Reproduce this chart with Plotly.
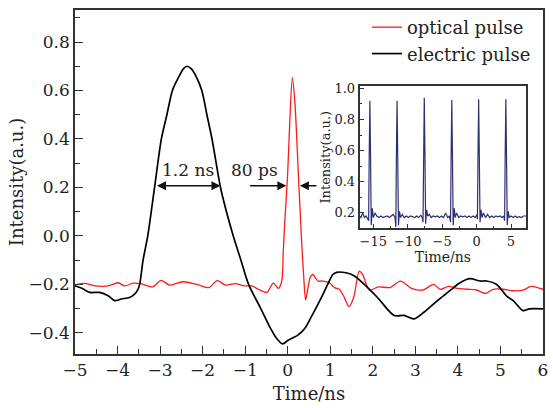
import plotly.graph_objects as go

# ---------------- data ----------------
elec_t = [-5, -4.84, -4.65, -4.42, -4.22, -4.07, -3.91, -3.72, -3.6, -3.52, -3.48, -3.40,
          -3.29, -3.13, -2.97, -2.84, -2.71, -2.55, -2.45, -2.37, -2.27, -2.16, -2.02,
          -1.90, -1.78, -1.58, -1.44, -1.28, -1.1, -0.92, -0.65, -0.42, -0.26, -0.12,
          0.01, 0.24, 0.40, 0.55, 0.79, 0.94, 1.06, 1.15, 1.37, 1.57, 1.80, 2.11, 2.50,
          2.73, 2.97, 3.2, 3.43, 3.66, 3.9, 4.05, 4.28, 4.52, 4.67, 4.91, 5.14, 5.3,
          5.53, 5.68, 6.0]
elec_v = [-0.206, -0.216, -0.233, -0.233, -0.247, -0.267, -0.26, -0.254, -0.24, -0.22, -0.2, -0.1,
          0.0, 0.2, 0.4, 0.5, 0.6, 0.66, 0.69, 0.70, 0.69, 0.66, 0.6,
          0.5, 0.4, 0.2, 0.1, 0.0, -0.1, -0.2, -0.294, -0.376, -0.423, -0.445,
          -0.43, -0.409, -0.382, -0.335, -0.254, -0.2, -0.159, -0.15, -0.152, -0.165, -0.2, -0.254, -0.328,
          -0.328, -0.342, -0.315, -0.28, -0.247, -0.213, -0.193, -0.176, -0.186, -0.186, -0.2, -0.247, -0.267,
          -0.308, -0.301, -0.301]

opt_t = [-5, -4.77, -4.53, -4.22, -3.99, -3.83, -3.64, -3.45, -3.17, -2.98, -2.77, -2.47,
         -2.13, -1.85, -1.66, -1.46, -1.23, -1.02, -0.84, -0.69, -0.49, -0.34, -0.22,
         -0.14, -0.105, -0.065, -0.004, 0.05, 0.11, 0.17, 0.245, 0.32, 0.38, 0.42, 0.47,
         0.53, 0.59, 0.71, 0.83, 0.98, 1.1, 1.21, 1.32, 1.44, 1.55, 1.68, 1.76, 1.92,
         2.13, 2.40, 2.65, 2.91, 3.18, 3.43, 3.58, 3.78, 3.95, 4.21, 4.44, 4.65, 4.83,
         5.06, 5.28, 5.53, 5.72, 6.0]
opt_v = [-0.202, -0.196, -0.206, -0.206, -0.193, -0.206, -0.195, -0.197, -0.21, -0.183, -0.203, -0.189,
         -0.2, -0.213, -0.184, -0.203, -0.197, -0.206, -0.206, -0.22, -0.233, -0.195, -0.216,
         -0.186, -0.064, 0.072, 0.248, 0.478, 0.654, 0.546, 0.275, 0.0, -0.18, -0.264, -0.22,
         -0.17, -0.159, -0.186, -0.186, -0.193, -0.213, -0.22, -0.25, -0.292, -0.254, -0.145, -0.159, -0.223,
         -0.21, -0.213, -0.186, -0.216, -0.223, -0.2, -0.22, -0.208, -0.215, -0.22, -0.223, -0.237, -0.22,
         -0.22, -0.226, -0.224, -0.208, -0.22]

inset_t = [-17.0, -16.8, -16.55, -16.3, -16.05, -15.8, -15.68, -15.6, -15.5, -15.4, -15.3, -15.15,
           -15.0, -14.75, -14.5, -14.2, -13.9, -13.6, -13.3, -13.0, -12.7, -12.4, -12.1, -11.85,
           -11.73, -11.65, -11.55, -11.45, -11.35, -11.2, -11.05, -10.8, -10.5, -10.2, -9.9, -9.6,
           -9.3, -9.0, -8.7, -8.4, -8.1, -7.9, -7.78, -7.7, -7.6, -7.5, -7.4, -7.25, -7.1, -6.85,
           -6.6, -6.3, -6.0, -5.7, -5.4, -5.1, -4.8, -4.5, -4.2, -3.95, -3.78, -3.7, -3.6, -3.5,
           -3.4, -3.25, -3.1, -2.9, -2.6, -2.3, -2.0, -1.7, -1.4, -1.1, -0.8, -0.5, -0.2, 0.05,
           0.12, 0.2, 0.3, 0.4, 0.5, 0.65, 0.8, 1.0, 1.3, 1.6, 1.9, 2.2, 2.5, 2.8, 3.1, 3.4,
           3.7, 3.95, 4.07, 4.15, 4.25, 4.35, 4.45, 4.6, 4.75, 5.0, 5.3, 5.6, 5.9, 6.2, 6.5,
           6.8, 7.2]
inset_v = [0.18, 0.17, 0.2, 0.17, 0.18, 0.16, 0.15, 0.55, 0.92, 0.55, 0.12, 0.23,
           0.17, 0.2, 0.18, 0.17, 0.18, 0.17, 0.175, 0.18, 0.17, 0.18, 0.19, 0.17,
           0.11, 0.55, 0.92, 0.55, 0.12, 0.21, 0.17, 0.19, 0.17, 0.18, 0.17, 0.18,
           0.175, 0.17, 0.18, 0.17, 0.185, 0.17, 0.14, 0.58, 0.94, 0.58, 0.13, 0.22, 0.18, 0.19,
           0.17, 0.18, 0.175, 0.18, 0.17, 0.18, 0.17, 0.2, 0.17, 0.18, 0.14, 0.55, 0.925, 0.55,
           0.12, 0.23, 0.17, 0.2, 0.17, 0.18, 0.175, 0.18, 0.17, 0.18, 0.17, 0.18, 0.17, 0.19,
           0.16, 0.55, 0.93, 0.55, 0.14, 0.22, 0.17, 0.2, 0.17, 0.19, 0.17, 0.18, 0.17, 0.18, 0.175, 0.18,
           0.17, 0.18, 0.15, 0.55, 0.93, 0.55, 0.12, 0.21, 0.17, 0.18, 0.17, 0.18, 0.17, 0.175, 0.17,
           0.18, 0.18]

x_ticks = [-5, -4, -3, -2, -1, 0, 1, 2, 3, 4, 5, 6]
y_ticks = [-0.4, -0.2, 0.0, 0.2, 0.4, 0.6, 0.8]
inset_x_ticks = [-15, -10, -5, 0, 5]
inset_y_ticks = [0.2, 0.4, 0.6, 0.8, 1.0]

FONT = "DejaVu Serif"
AX = "#333333"

fig = go.Figure()
fig.add_trace(go.Scatter(x=opt_t, y=opt_v, mode="lines", name="optical pulse",
                         line=dict(color="#ff1a1a", width=1.3, shape="spline", smoothing=0.8)))
fig.add_trace(go.Scatter(x=elec_t, y=elec_v, mode="lines", name="electric pulse",
                         line=dict(color="#000000", width=1.7, shape="spline", smoothing=0.8)))
fig.add_trace(go.Scatter(x=inset_t, y=inset_v, mode="lines", showlegend=False,
                         xaxis="x2", yaxis="y2",
                         line=dict(color="#2e3070", width=1.2)))

axis_common = dict(showline=True, linecolor=AX, linewidth=1.6, mirror=True, showgrid=False,
                   zeroline=False, ticks="inside", tickcolor=AX, tickwidth=1.3)

fig.update_layout(
    width=553, height=408,
    margin=dict(l=75, r=6, t=5, b=54),
    paper_bgcolor="white", plot_bgcolor="white",
    font=dict(family=FONT, size=17, color="#222222"),
    showlegend=True,
    legend=dict(x=0.985, y=1.003, xanchor="right", yanchor="top",
                bgcolor="rgba(0,0,0,0)", font=dict(size=18), tracegroupgap=0),
    xaxis=dict(range=[-5, 6], tickvals=x_ticks, ticklen=8,
               minor=dict(ticks="inside", ticklen=5, dtick=0.5, tickcolor=AX, showgrid=False),
               title=dict(text="Time/ns", font=dict(size=18), standoff=8),
               **axis_common),
    yaxis=dict(range=[-0.487, 0.932], tickvals=y_ticks, tickformat=".1f", ticklen=8,
               minor=dict(ticks="inside", ticklen=5, dtick=0.1, tick0=0, tickcolor=AX, showgrid=False),
               title=dict(text="Intensity(a.u.)", font=dict(size=18), standoff=0),
               **axis_common),
    xaxis2=dict(domain=[0.608, 0.964], anchor="y2", range=[-17, 7.2], tickvals=inset_x_ticks,
                ticklen=5, tickfont=dict(size=13),
                minor=dict(ticks="inside", ticklen=3, dtick=2.5, tick0=0, tickcolor=AX, showgrid=False),
                title=dict(text="Time/ns", font=dict(size=14), standoff=0),
                **axis_common),
    yaxis2=dict(domain=[0.365, 0.779], anchor="x2", range=[0.1, 1.015], tickvals=inset_y_ticks,
                tickformat=".1f", ticklen=5, tickfont=dict(size=13),
                minor=dict(ticks="inside", ticklen=3, dtick=0.1, tick0=0, tickcolor=AX, showgrid=False),
                title=dict(text="Intensity(a.u.)", font=dict(size=13), standoff=1),
                **axis_common),
)

arrow = dict(showarrow=True, arrowhead=2, arrowsize=1.3, arrowwidth=1.4, arrowcolor="#111111",
             xref="x", yref="y", axref="x", ayref="y", text="")
fig.add_annotation(x=-1.58, y=0.207, ax=-3.11, ay=0.207, arrowside="end+start", **arrow)
fig.add_annotation(x=-0.03, y=0.207, ax=-0.92, ay=0.207, **arrow)
fig.add_annotation(x=0.285, y=0.207, ax=0.71, ay=0.207, **arrow)
fig.add_annotation(x=-2.34, y=0.27, text="1.2 ns", showarrow=False, xref="x", yref="y",
                   font=dict(size=17))
fig.add_annotation(x=-0.78, y=0.27, text="80 ps", showarrow=False, xref="x", yref="y",
                   font=dict(size=17))

fig.write_html("out.html")
